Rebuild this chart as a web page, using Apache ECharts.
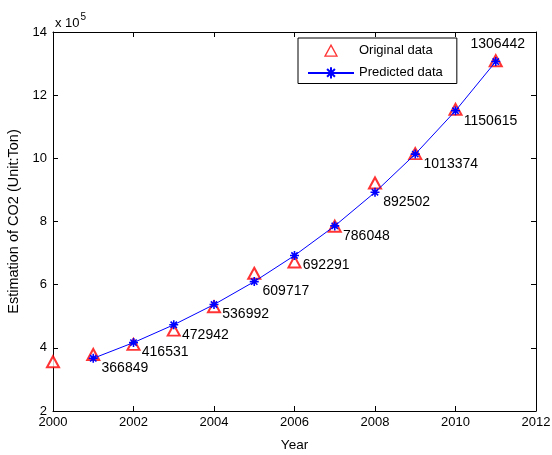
<!DOCTYPE html>
<html>
<head>
<meta charset="utf-8">
<script src="https://cdn.jsdelivr.net/npm/echarts@6/dist/echarts.min.js"></script>
<style>
  html, body { margin: 0; padding: 0; background: #fff; }
  #chart { width: 552px; height: 455px; }
</style>
</head>
<body>
<div id="chart"></div>
<script>
// Observed CO2 estimates (2000-2011)
const origYears = [2000, 2001, 2002, 2003, 2004, 2005, 2006, 2007, 2008, 2009, 2010, 2011];
const origValues = [356000, 379000, 411000, 456000, 530000, 636000, 672000, 785000, 922000, 1015000, 1155000, 1309000];

// Model output (2001-2011)
const predYears = [2001, 2002, 2003, 2004, 2005, 2006, 2007, 2008, 2009, 2010, 2011];
const predValues = [366849, 416531, 472942, 536992, 609717, 692291, 786048, 892502, 1013374, 1150615, 1306442];

const FONT = 'Liberation Sans, Arial, sans-serif';
const SCALE = 1e5;

const chart = echarts.init(document.getElementById('chart'), null, { renderer: 'canvas' });

const asterisk = 'path://M0,-10L0,10M-10,0L10,0M-7,-7L7,7M-7,7L7,-7';
// Legend triangle: outer move-to points fix the icon box to the legend item size
const legendTriangle = 'path://M0,0M46,14M17,12.5L23,1.5L29,12.5Z';

const predData = predYears.map((y, i) => {
  const item = { value: [y, predValues[i]] };
  if (i === predYears.length - 1) {
    item.label = { position: 'top', offset: [2, 0], distance: 5 };
  }
  return item;
});

const axisCommon = {
  type: 'value',
  axisLine: { show: true, onZero: false, lineStyle: { color: '#000', width: 1 } },
  axisTick: { show: true, inside: true, length: 5, lineStyle: { color: '#000' } },
  splitLine: { show: false },
  axisLabel: { color: '#000', fontFamily: FONT, fontSize: 13 }
};

chart.setOption({
  animation: false,
  backgroundColor: '#fff',
  grid: { left: 53, right: 16, top: 32, bottom: 44, containLabel: false, outerBoundsMode: 'none' },
  xAxis: [
    Object.assign({}, axisCommon, {
      min: 2000, max: 2012, interval: 2, position: 'bottom',
      axisLabel: Object.assign({}, axisCommon.axisLabel, {
        margin: 5,
        formatter: v => String(v)
      }),
      name: 'Year', nameLocation: 'middle', nameGap: 27,
      nameTextStyle: { color: '#000', fontFamily: FONT, fontSize: 13.5 }
    }),
    Object.assign({}, axisCommon, {
      min: 2000, max: 2012, interval: 2, position: 'top',
      axisLabel: { show: false }
    })
  ],
  yAxis: [
    Object.assign({}, axisCommon, {
      min: 200000, max: 1400000, interval: 200000, position: 'left',
      axisLabel: Object.assign({}, axisCommon.axisLabel, {
        margin: 6,
        formatter: v => String(Math.round(v / SCALE))
      }),
      name: 'Estimation of CO2 (Unit:Ton)', nameLocation: 'middle', nameGap: 30,
      nameTextStyle: { color: '#000', fontFamily: FONT, fontSize: 14.5 }
    }),
    Object.assign({}, axisCommon, {
      min: 200000, max: 1400000, interval: 200000, position: 'right',
      axisLabel: { show: false }
    })
  ],
  legend: {
    orient: 'vertical',
    left: 298, top: 38,
    backgroundColor: '#fff',
    borderColor: '#000', borderWidth: 1,
    padding: [5, 14, 4, 9],
    itemWidth: 46, itemHeight: 14, itemGap: 8,
    textStyle: { color: '#000', fontFamily: FONT, fontSize: 13 },
    data: [
      {
        name: 'Original data',
        icon: legendTriangle,
        itemStyle: { color: 'rgba(0,0,0,0)', borderColor: '#ff0000', borderWidth: 1.3 }
      },
      { name: 'Predicted data' }
    ]
  },
  graphic: [{
    type: 'text',
    left: 55, top: 12,
    style: {
      text: '{a|x 10}{b|5}',
      rich: {
        a: { fontFamily: FONT, fontSize: 13, fill: '#000', verticalAlign: 'bottom' },
        b: { fontFamily: FONT, fontSize: 10, fill: '#000', verticalAlign: 'top', padding: [0, 0, 8, 1] }
      }
    }
  }],
  series: [
    {
      name: 'Predicted data',
      type: 'line',
      data: predData,
      symbol: asterisk,
      symbolSize: 9,
      showAllSymbol: true,
      lineStyle: { color: '#0000ff', width: 1 },
      itemStyle: { color: '#0000ff', borderColor: '#0000ff', borderWidth: 1.6 },
      label: {
        show: true,
        position: 'right',
        distance: 3,
        offset: [0, 10],
        color: '#000',
        fontFamily: FONT,
        fontSize: 14,
        formatter: p => String(p.value[1])
      },
      z: 3
    },
    {
      name: 'Original data',
      type: 'scatter',
      data: origYears.map((y, i) => [y, origValues[i]]),
      symbol: 'emptyTriangle',
      symbolSize: [12, 11],
      itemStyle: { color: '#ff0000', borderColor: '#ff0000', borderWidth: 1.3 },
      z: 2
    }
  ]
});
</script>
</body>
</html>
